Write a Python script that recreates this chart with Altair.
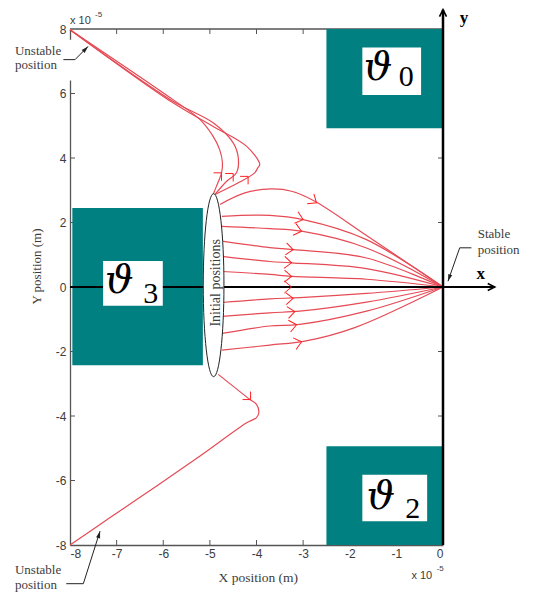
import altair as alt
import pandas as pd

RED = "#e64a55"
ARROW_RED = "#ff2020"
TEAL = "#008080"
GRAY = "#555555"
TXT = "#3c3c3c"
SERIF = "Liberation Serif"

# ---------------- data (units of 1e-5 m) ----------------
x_ticks = [-8, -7, -6, -5, -4, -3, -2, -1, 0]
y_ticks = [-8, -6, -4, -2, 0, 2, 4, 6, 8]
frame_x_ticks = [-7, -6, -5, -4, -3]
left_y_ticks = [-6, -4, -2, 2, 4, 6]
right_y_ticks = [-4, -2, 2, 4]

# trajectories towards the upper unstable position
up_inner_x = [-4.93, -4.86, -4.75, -4.73, -4.79, -4.93, -5.21, -5.79, -8.0]
up_inner_y = [2.87, 3.12, 3.54, 3.85, 4.26, 4.67, 5.19, 5.81, 7.98]
up_mid_x = [-4.89, -4.64, -4.43, -4.39, -4.50, -4.93, -5.79, -8.0]
up_mid_y = [2.87, 3.28, 3.54, 4.00, 4.47, 5.09, 5.76, 7.98]
up_out_x = [-4.89, -4.39, -4.04, -3.97, -3.93, -4.21, -4.93, -5.79, -8.0]
up_out_y = [2.87, 3.23, 3.54, 3.70, 3.80, 4.36, 4.98, 5.71, 7.98]
# trajectory towards the lower unstable position
low_x = [-4.82, -4.14, -4.00, -3.95, -4.00, -4.21, -5.21, -6.14, -7.14, -8.0]
low_y = [-2.71, -3.49, -3.64, -3.90, -4.05, -4.21, -5.24, -6.17, -7.15, -8.0]

# fan of trajectories towards the stable position (0, 0)
fan_x = [
    [-4.785, -4.249, -3.677, -3.248, -2.749, -1.641, 0],
    [-4.742, -3.715, -3.0, -1.641, 0],
    [-4.742, -3.715, -3.034, -1.641, 0],
    [-4.742, -3.715, -3.214, -1.641, 0],
    [-4.742, -3.715, -3.248, -1.641, 0],
    [-4.742, -3.715, -3.248, -1.641, 0],
    [-4.742, 0],
    [-4.742, -3.715, -3.071, -1.641, 0],
    [-4.742, -3.715, -3.071, -1.641, 0],
    [-4.742, -3.715, -3.071, -1.641, 0],
    [-4.742, -3.715, -2.963, -1.892, 0],
]
fan_y = [
    [2.56, 2.92, 3.04, 2.97, 2.66, 1.60, 0],
    [2.19, 2.22, 2.09, 1.47, 0],
    [1.88, 1.81, 1.73, 1.21, 0],
    [1.42, 1.22, 1.16, 0.90, 0],
    [0.95, 0.79, 0.75, 0.57, 0],
    [0.48, 0.39, 0.33, 0.24, 0],
    [0, 0],
    [-0.48, -0.37, -0.33, -0.20, 0],
    [-0.91, -0.80, -0.75, -0.47, 0],
    [-1.44, -1.21, -1.16, -0.75, 0],
    [-1.96, -1.80, -1.68, -1.26, 0],
]
fan_arrow_x = [-2.713, -3.0, -3.034, -3.214, -3.248, -3.248, -3.248, -3.214, -3.178, -3.141, -3.034]
fan_arrow_y = [2.61, 2.09, 1.73, 1.16, 0.75, 0.33, 0.0, -0.35, -0.76, -1.17, -1.70]
fan_arrow_angle = [34, 17, 14, 6, 4, 2, 0, 357, 352, 349, 345]

up_arrow_x = [-4.75, -4.50, -4.18]
up_arrow_y = [3.54, 3.52, 3.43]
low_arrow_x = [-4.127]
low_arrow_y = [-3.49]

# regions
reg_x = [-2.5, -7.95, -2.5]
reg_x2 = [0.0, -5.15, 0.0]
reg_y = [4.92, -2.43, -8.0]
reg_y2 = [8.0, 2.45, -4.94]
box_x = [-1.73, -7.29, -1.73]
box_x2 = [-0.47, -6.01, -0.34]
box_y = [5.95, -0.58, -7.26]
box_y2 = [7.43, 0.81, -5.82]
theta_x = [-1.70, -7.25, -1.64]
theta_y = [6.78, 0.18, -6.52]
sub_txt = ["0", "3", "2"]
sub_x = [-0.95, -6.43, -0.81]
sub_y = [6.50, -0.22, -6.88]

ell_x, ell_y = [-4.92], [0.056]

# ---------------- helpers ----------------
xs = alt.Scale(domain=[-8, 0], nice=False, zero=False)
ys = alt.Scale(domain=[-8, 8], nice=False, zero=False)
X = alt.X("x:Q", scale=xs, axis=alt.Axis(values=x_ticks, title=None, ticks=False, grid=False,
                                         domainColor=GRAY, domainWidth=1.3, labelColor=TXT,
                                         labelFont="Liberation Sans", labelFontSize=12,
                                         labelPadding=3, labelExpr="'' + datum.value"))
Y = alt.Y("y:Q", scale=ys, axis=alt.Axis(values=y_ticks, title=None, ticks=False, grid=False,
                                         domainColor=GRAY, domainWidth=1.3, labelColor=TXT,
                                         labelFont="Liberation Sans", labelFontSize=12,
                                         labelPadding=4, labelExpr="'' + datum.value"))


def pts(xv, yv, **extra):
    d = {"x": xv, "y": yv}
    d.update(extra)
    return pd.DataFrame(d)


def lines(groups):
    rows = []
    for gid, (xv, yv) in enumerate(groups):
        for i, (a, b) in enumerate(zip(xv, yv)):
            rows.append({"g": gid, "o": i, "x": a, "y": b})
    return pd.DataFrame(rows)


def text_layer(xv, yv, texts, **kw):
    df = pd.DataFrame({"x": xv, "y": yv, "t": texts})
    return alt.Chart(df).mark_text(**kw).encode(x=X, y=Y, text="t:N")


layers = []

# frame ticks (inward)
tdf = pd.DataFrame({"x": frame_x_ticks})
layers.append(alt.Chart(tdf).mark_rule(color=GRAY, strokeWidth=1).encode(x=X, y=alt.value(0), y2=alt.value(5)))
layers.append(alt.Chart(tdf).mark_rule(color=GRAY, strokeWidth=1).encode(x=X, y=alt.value(511), y2=alt.value(516)))
ldf = pd.DataFrame({"y": left_y_ticks})
layers.append(alt.Chart(ldf).mark_rule(color=GRAY, strokeWidth=1).encode(y=Y, x=alt.value(0), x2=alt.value(5)))
rdf = pd.DataFrame({"y": right_y_ticks})
layers.append(alt.Chart(rdf).mark_rule(color=GRAY, strokeWidth=1).encode(y=Y, x=alt.value(368), x2=alt.value(373)))
# top frame line
layers.append(alt.Chart(pd.DataFrame({"x": [-8], "x2": [0], "y": [8]})).mark_rule(color=GRAY, strokeWidth=1.3)
              .encode(x=X, x2="x2:Q", y=Y))

# red trajectories
traj = lines([(up_inner_x, up_inner_y), (up_mid_x, up_mid_y), (up_out_x, up_out_y), (low_x, low_y)]
             + list(zip(fan_x, fan_y)))
layers.append(alt.Chart(traj).mark_line(color=RED, strokeWidth=1.2, interpolate="catmull-rom")
              .encode(x=X, y=Y, detail="g:N", order="o:Q"))

# teal regions
rdf2 = pd.DataFrame({"x": reg_x, "x2": reg_x2, "y": reg_y, "y2": reg_y2})
layers.append(alt.Chart(rdf2).mark_rect(color=TEAL).encode(x=X, x2="x2:Q", y=Y, y2="y2:Q"))

# black coordinate axes
layers.append(alt.Chart(pd.DataFrame({"x": [-8], "x2": [1.11], "y": [0]})).mark_rule(color="black", strokeWidth=2)
              .encode(x=X, x2="x2:Q", y=Y))
layers.append(alt.Chart(pd.DataFrame({"x": [0], "y": [-8.0], "y2": [8.6]})).mark_rule(color="black", strokeWidth=2.5)
              .encode(x=X, y=Y, y2="y2:Q"))
chev_up = "M -0.5 1 L 0 0 L 0.5 1"
layers.append(alt.Chart(pd.DataFrame({"x": [0, 1.11], "y": [8.6, 0], "a": [0, 90]}))
              .mark_point(shape=chev_up, size=196, filled=False, stroke="black", strokeWidth=1.6, opacity=1)
              .encode(x=X, y=Y, angle=alt.Angle("a:Q", scale=None)))

# white label boxes
bdf = pd.DataFrame({"x": box_x, "x2": box_x2, "y": box_y, "y2": box_y2})
layers.append(alt.Chart(bdf).mark_rect(color="white").encode(x=X, x2="x2:Q", y=Y, y2="y2:Q"))
layers.append(text_layer(theta_x, theta_y, ["ϑ", "ϑ", "ϑ"], font="DejaVu Serif", fontStyle="italic",
                         fontSize=40, align="left", baseline="middle", color="black"))
layers.append(text_layer(sub_x, sub_y, sub_txt, font=SERIF, fontSize=30, align="left",
                         baseline="middle", color="black"))

# ellipse of initial positions
ell = ("M0,-1 C0.0624,-1 0.113,-0.5523 0.113,0 C0.113,0.5523 0.0624,1 0,1 "
       "C-0.0624,1 -0.113,0.5523 -0.113,0 C-0.113,-0.5523 -0.0624,-1 0,-1 Z")
layers.append(alt.Chart(pts(ell_x, ell_y)).mark_point(shape=ell, size=33489, filled=True, fill="white",
                                                      stroke="#222", strokeWidth=1, opacity=1)
              .encode(x=X, y=Y))
layers.append(text_layer([-4.87], [0.13], ["Initial positions"], font=SERIF, fontSize=14, angle=270,
                         align="center", baseline="middle", color=TXT))

# red arrowheads
chev_r = "M -1.2 -1 L 0 0 L -1.2 1"
layers.append(alt.Chart(pts(fan_arrow_x, fan_arrow_y, a=fan_arrow_angle))
              .mark_point(shape=chev_r, size=144, filled=False, stroke=ARROW_RED, strokeWidth=1, opacity=1)
              .encode(x=X, y=Y, angle=alt.Angle("a:Q", scale=None)))
layers.append(alt.Chart(pts(up_arrow_x, up_arrow_y))
              .mark_point(shape="M -1 0 L 0 0 L 0 1", size=256, filled=False, stroke=ARROW_RED, strokeWidth=1, opacity=1)
              .encode(x=X, y=Y))
layers.append(alt.Chart(pts(low_arrow_x, low_arrow_y))
              .mark_point(shape="M -1 0 L 0 0 L 0 -1", size=256, filled=False, stroke=ARROW_RED, strokeWidth=1, opacity=1)
              .encode(x=X, y=Y))

# annotations
layers.append(alt.Chart(pd.DataFrame({"x": [-9.2], "x2": [-7.95], "y": [6.40], "y2": [7.67]}))
              .mark_rect(color="white").encode(x=X, x2="x2:Q", y=Y, y2="y2:Q"))
layers.append(text_layer([-9.18, -9.18, -9.18, -9.18, 0.744, 0.744],
                         [7.31, 6.89, -8.79, -9.24, 1.63, 1.16],
                         ["Unstable", "position", "Unstable", "position", "Stable", "position"],
                         font=SERIF, fontSize=13, align="left", baseline="middle", color=TXT))
lead = lines([([-8.142, -7.892, -7.613], [7.05, 7.05, 7.46]),
              ([-8.08, -7.714, -7.356], [-9.20, -9.20, -7.57]),
              ([0.609, 0.358, 0.107], [1.215, 1.215, 0.18])])
layers.append(alt.Chart(lead).mark_line(color="#222", strokeWidth=1).encode(x=X, y=Y, detail="g:N", order="o:Q"))
layers.append(alt.Chart(pts([-7.613, -7.356, 0.107], [7.46, -7.57, 0.18], a=[44, 16, 199]))
              .mark_point(shape="M 0 0 L 0.3 1 L -0.3 1 Z", size=196, filled=True, color="#222", opacity=1)
              .encode(x=X, y=Y, angle=alt.Angle("a:Q", scale=None)))

# axis titles and labels
layers.append(text_layer([-8.706], [0.635], ["Y position (m)"], font=SERIF, fontSize=13, angle=270,
                         align="center", baseline="middle", color=TXT))
layers.append(text_layer([-3.96], [-9.03], ["X position (m)"], font=SERIF, fontSize=13.5,
                         align="center", baseline="middle", color=TXT))
layers.append(text_layer([-8.0, -0.677], [8.26, -8.96], ["x 10", "x 10"], font="Liberation Sans",
                         fontSize=11, align="left", baseline="middle", color=TXT))
layers.append(text_layer([-7.464, -0.135], [8.44, -8.75], ["-5", "-5"], font="Liberation Sans",
                         fontSize=8, align="left", baseline="middle", color=TXT))
layers.append(text_layer([0.716, 0.358], [0.39, 8.33], ["x", "y"], font=SERIF, fontSize=17,
                         fontWeight="bold", align="left", baseline="middle", color="black"))

chart = alt.layer(*layers).properties(
    width=373, height=516,
    autosize=alt.AutoSizeParams(type="none"),
    padding={"left": 62, "top": 21, "right": 88, "bottom": 49},
).configure_view(strokeWidth=0)

chart.save("out.html", embed_options={"renderer": "svg", "actions": False})
